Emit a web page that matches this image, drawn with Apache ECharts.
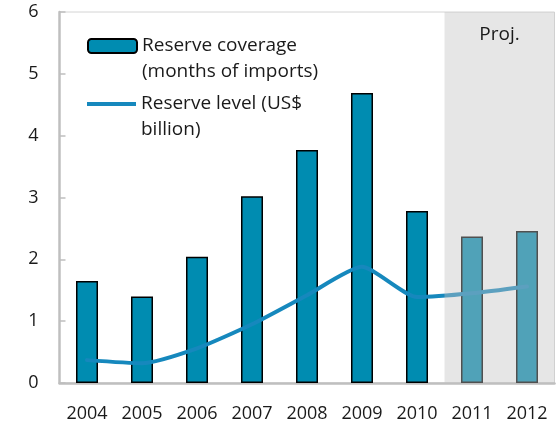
<!DOCTYPE html>
<html>
<head>
<meta charset="utf-8">
<style>
  html, body { margin: 0; padding: 0; background: #ffffff; }
  #chart { width: 557px; height: 426px; }
</style>
<script src="https://cdn.jsdelivr.net/npm/echarts@6/dist/echarts.min.js"></script>
</head>
<body>
<div id="chart"></div>
<script>
// Years on the horizontal axis; the last two are projections
const years = ['2004', '2005', '2006', '2007', '2008', '2009', '2010', '2011', '2012'];
const projectedYears = ['2011', '2012'];

// Reserve coverage, months of imports (bars)
const coverageMonths = [1.65, 1.40, 2.04, 3.02, 3.77, 4.69, 2.78, 2.37, 2.46];

// Reserve level, US$ billion (line)
const reserveLevel = [0.37, 0.32, 0.56, 0.95, 1.42, 1.88, 1.39, 1.45, 1.56];

// Value axis ticks
const yTicks = [0, 1, 2, 3, 4, 5, 6];

const coverageName = 'Reserve coverage\n(months of imports)';
const levelName = 'Reserve level (US$\nbillion)';

const FONT = '"Open Sans", "Noto Sans", sans-serif';
const TEXT = '#1a1a1a';
const AXIS_GREY = '#bfbfbf';

const legendText = {
  fontFamily: FONT,
  fontSize: 19,
  color: TEXT,
  lineHeight: 26
};

// an empty leading line keeps the first text line level with the key symbol
const keyFormatter = function (name) { return '\n' + name; };

const chart = echarts.init(document.getElementById('chart'), null, { renderer: 'canvas' });

chart.setOption({
  animation: false,
  backgroundColor: '#ffffff',
  grid: {
    left: 59.5,
    right: 2.5,
    top: 12,
    bottom: 43,
    show: true,
    borderColor: '#d4d4d4',
    borderWidth: 1,
    backgroundColor: 'transparent'
  },
  legend: [
    {
      data: [coverageName],
      left: 87,
      top: 7,
      padding: 0,
      itemWidth: 49,
      itemHeight: 14,
      selectedMode: false,
      formatter: keyFormatter,
      textStyle: legendText
    },
    {
      data: [{ name: levelName, icon: 'rect' }],
      left: 87,
      top: 65,
      padding: 0,
      itemWidth: 49,
      itemHeight: 4,
      selectedMode: false,
      formatter: keyFormatter,
      textStyle: legendText
    }
  ],
  xAxis: {
    type: 'category',
    data: years,
    boundaryGap: true,
    axisLine: { lineStyle: { color: AXIS_GREY, width: 2.5 } },
    axisTick: { inside: true, length: 5, interval: 0, lineStyle: { color: AXIS_GREY, width: 1.5 } },
    axisLabel: {
      interval: 0,
      margin: 22,
      fontFamily: FONT,
      fontSize: 18,
      color: TEXT
    },
    splitLine: { show: false }
  },
  yAxis: {
    type: 'value',
    min: yTicks[0],
    max: yTicks[yTicks.length - 1],
    interval: 1,
    axisLine: { show: true, lineStyle: { color: AXIS_GREY, width: 2.5 } },
    axisTick: { show: true, inside: true, length: 6, lineStyle: { color: AXIS_GREY, width: 1.5 } },
    axisLabel: {
      margin: 21,
      fontFamily: FONT,
      fontSize: 18,
      color: TEXT
    },
    splitLine: { show: false }
  },
  series: [
    {
      name: coverageName,
      type: 'bar',
      data: coverageMonths,
      barWidth: 22,
      itemStyle: {
        color: '#008cb1',
        borderColor: '#000000',
        borderWidth: 1.5
      },
      // translucent grey band over the projection years
      markArea: {
        z: 5,
        silent: true,
        itemStyle: { color: 'rgba(195,195,195,0.41)' },
        label: {
          show: true,
          position: 'insideTop',
          distance: 13,
          fontFamily: FONT,
          fontSize: 19,
          color: TEXT
        },
        data: [[
          { name: 'Proj.', xAxis: projectedYears[0] },
          { xAxis: projectedYears[projectedYears.length - 1] }
        ]]
      }
    },
    {
      name: levelName,
      type: 'line',
      data: reserveLevel,
      smooth: 0.2,
      symbol: 'none',
      lineStyle: { color: '#1688bd', width: 4, cap: 'round' },
      itemStyle: { color: '#1688bd' }
    }
  ]
});
</script>
</body>
</html>
